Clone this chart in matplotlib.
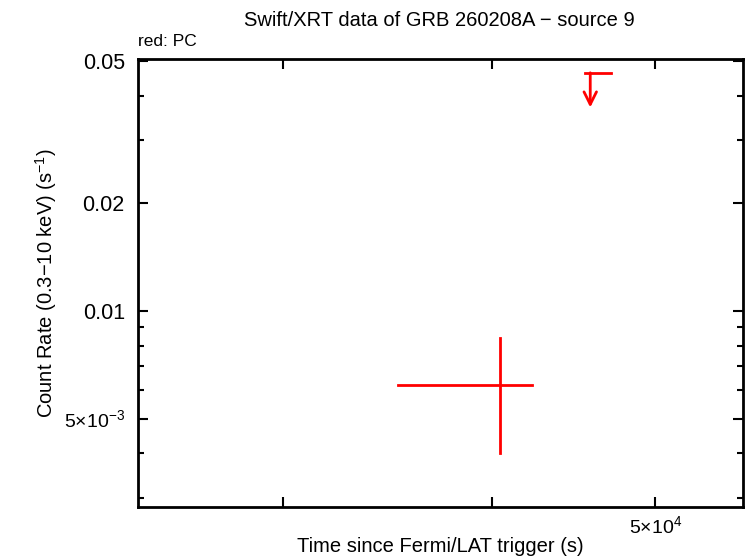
import matplotlib
matplotlib.use("Agg")
import matplotlib.pyplot as plt
from matplotlib.ticker import FixedLocator, NullFormatter, NullLocator

plt.rcParams["font.family"] = ["Liberation Sans", "DejaVu Sans"]
plt.rcParams["mathtext.fontset"] = "custom"
plt.rcParams["mathtext.rm"] = "Liberation Sans"

# PC detection
pc_t = [40430]
pc_t_lo = [35120]
pc_t_hi = [42240]
pc_rate = [6.21e-3]
pc_rate_lo = [4.01e-3]
pc_rate_hi = [8.40e-3]

# PC upper limit
ul_t = [45740]
ul_t_lo = [45420]
ul_t_hi = [47060]
ul_rate = [0.0463]

x_ticks = [3e4, 4e4, 5e4]
x_labels = ["", "", r"5$\times$10$^{4}$"]
y_major = [5e-3, 0.01, 0.02, 0.05]
y_labels = [r"5$\times$10$^{-3}$", "0.01", "0.02", "0.05"]
y_minor = [3e-3, 4e-3, 6e-3, 7e-3, 8e-3, 9e-3, 0.03, 0.04]

fig = plt.figure(figsize=(7.46, 5.58), dpi=100)
ax = fig.add_axes([138 / 746, 1 - 507 / 558, (743 - 138) / 746, (507 - 59) / 558])
ax.set_xscale("log")
ax.set_yscale("log")
ax.set_xlim(24600, 56400)
ax.set_ylim(2.83e-3, 0.0506)

for t, lo, hi, r, rlo, rhi in zip(pc_t, pc_t_lo, pc_t_hi, pc_rate, pc_rate_lo, pc_rate_hi):
    ax.plot([lo, hi], [r, r], color="red", lw=2)
    ax.plot([t, t], [rlo, rhi], color="red", lw=2)

for t, lo, hi, r in zip(ul_t, ul_t_lo, ul_t_hi, ul_rate):
    ax.plot([lo, hi], [r, r], color="red", lw=2)
    ax.annotate("", xy=(t, r * 0.80), xytext=(t, r),
                arrowprops=dict(arrowstyle="->,head_length=0.9,head_width=0.45",
                                color="red", lw=2, shrinkA=0, shrinkB=0))

ax.xaxis.set_major_locator(FixedLocator(x_ticks))
ax.set_xticklabels(x_labels)
ax.xaxis.set_minor_locator(NullLocator())
ax.yaxis.set_major_locator(FixedLocator(y_major))
ax.set_yticklabels(y_labels)
ax.yaxis.set_minor_locator(FixedLocator(y_minor))
ax.yaxis.set_minor_formatter(NullFormatter())

ax.tick_params(which="both", direction="in", top=True, right=True, width=1.5, labelsize=15.5)
ax.tick_params(which="major", length=7)
ax.tick_params(axis="y", pad=9.5)
ax.tick_params(axis="x", pad=6, labelsize=14)
ax.tick_params(which="minor", length=4)
for lab in ax.get_yticklabels():
    if "times" in lab.get_text():
        lab.set_fontsize(14)
for s in ax.spines.values():
    s.set_linewidth(2)

ax.set_xlabel("Time since Fermi/LAT trigger (s)", fontsize=14.5, va="center")
ax.xaxis.set_label_coords(0.5, (507 - 547) / 448)
ax.set_ylabel("Count Rate (0.3\u221210 keV) (s$^{-1}$)", fontsize=14.5, va="center")
ax.yaxis.set_label_coords((46 - 138) / 605, 0.5)
fig.text(439 / 746, 1 - 20 / 558, "Swift/XRT data of GRB 260208A \u2212 source 9",
         ha="center", va="center", fontsize=14.5)
fig.text(138 / 746, 1 - 42 / 558, "red: PC", ha="left", va="center", fontsize=12.5)

fig.savefig("out.png", dpi=100)
